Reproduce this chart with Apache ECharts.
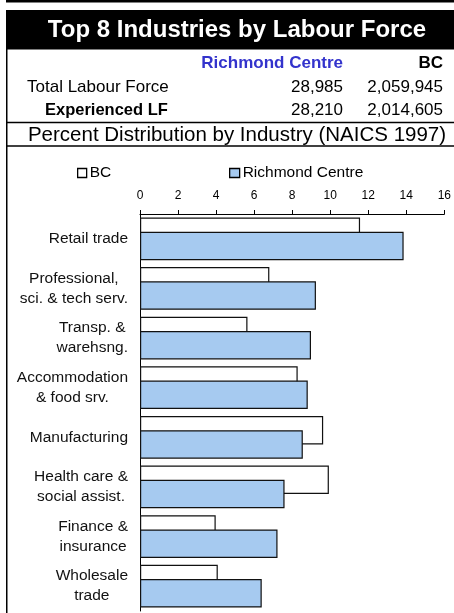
<!DOCTYPE html>
<html>
<head>
<meta charset="utf-8">
<style>
html,body{margin:0;padding:0;background:#fff;}
#chart{width:454px;height:613px;}
</style>
<script src="https://cdn.jsdelivr.net/npm/echarts@6/dist/echarts.min.js"></script>
</head>
<body>
<div id="chart"></div>
<script>
var titleText = 'Top 8 Industries by Labour Force';
var columnHeads = ['Richmond Centre', 'BC'];
var rowLabels = ['Total Labour Force', 'Experienced LF'];
var richmondCounts = ['28,985', '28,210'];
var bcCounts = ['2,059,945', '2,014,605'];
var subTitle = 'Percent Distribution by Industry (NAICS 1997)';

var categories = ['Retail trade', 'Professional,\nsci. & tech serv.', 'Transp. &\nwarehsng.', 'Accommodation\n& food srv.', 'Manufacturing', 'Health care &\nsocial assist.', 'Finance &\ninsurance', 'Wholesale\ntrade'];
var bcValues = [11.57, 6.80, 5.65, 8.29, 9.63, 9.93, 3.98, 4.09];
var richmondValues = [13.86, 9.25, 8.99, 8.82, 8.56, 7.60, 7.23, 6.40];
var seriesNames = ['BC', 'Richmond Centre'];

var FONT = '"Liberation Sans", Arial, sans-serif';
var chart = echarts.init(document.getElementById('chart'), null, {renderer: 'canvas'});

function txt(x, y, s, opts) {
  return {
    type: 'text', x: x, y: y, silent: true,
    style: Object.assign({
      text: s, fontFamily: FONT, fontSize: 17, fill: '#000',
      align: 'left', verticalAlign: 'middle'
    }, opts || {})
  };
}

var graphics = [
  {type: 'rect', shape: {x: 6, y: 0, width: 448, height: 2.5}, style: {fill: '#000'}, silent: true},
  {type: 'rect', shape: {x: 6, y: 10, width: 448, height: 39.5}, style: {fill: '#000'}, silent: true},
  txt(237, 30, titleText, {fontSize: 24, fontWeight: 'bold', fill: '#fff', align: 'center'}),
  txt(343, 63.5, columnHeads[0], {fontWeight: 'bold', fill: '#3333cc', align: 'right'}),
  txt(443, 63.5, columnHeads[1], {fontWeight: 'bold', align: 'right'}),
  txt(27, 87.5, rowLabels[0]),
  txt(343, 87.5, richmondCounts[0], {align: 'right'}),
  txt(443, 87.5, bcCounts[0], {align: 'right'}),
  txt(45, 110, rowLabels[1], {fontWeight: 'bold', fontSize: 16.5}),
  txt(343, 110, richmondCounts[1], {align: 'right'}),
  txt(443, 110, bcCounts[1], {align: 'right'}),
  {type: 'line', shape: {x1: 6, y1: 122.5, x2: 454, y2: 122.5}, style: {stroke: '#000', lineWidth: 1.5}, silent: true},
  txt(237, 135, subTitle, {fontSize: 20.5, align: 'center'}),
  {type: 'line', shape: {x1: 6, y1: 146, x2: 454, y2: 146}, style: {stroke: '#000', lineWidth: 1.5}, silent: true},
  {type: 'line', shape: {x1: 6.75, y1: 10, x2: 6.75, y2: 613}, style: {stroke: '#000', lineWidth: 1.5}, silent: true}
];

var option = {
  animation: false,
  backgroundColor: '#fff',
  textStyle: {fontFamily: FONT},
  graphic: graphics,
  legend: [
    {
      data: [{name: seriesNames[0], itemStyle: {color: '#fff', borderColor: '#000', borderWidth: 1.3}}],
      left: 77, top: 165, padding: 0, itemWidth: 9, itemHeight: 9, icon: 'rect',
      textStyle: {fontFamily: FONT, fontSize: 15.5, color: '#000', padding: [0, 0, 0, -2]}
    },
    {
      data: [{name: seriesNames[1], itemStyle: {color: '#a6caf0', borderColor: '#000', borderWidth: 1.3}}],
      left: 229, top: 165, padding: 0, itemWidth: 10, itemHeight: 9, icon: 'rect',
      textStyle: {fontFamily: FONT, fontSize: 15.5, color: '#000', padding: [0, 0, 0, -2]}
    }
  ],
  grid: {left: 140, right: 7, top: 214, height: 397, containLabel: false},
  xAxis: {
    type: 'value', position: 'top', min: 0, max: 16, interval: 2,
    axisLine: {show: true, lineStyle: {color: '#000', width: 1}},
    axisTick: {show: true, length: 4, lineStyle: {color: '#000'}},
    axisLabel: {fontFamily: FONT, fontSize: 12, color: '#000', margin: 12},
    splitLine: {show: false}
  },
  yAxis: {
    type: 'category', inverse: true, data: categories,
    axisLine: {show: true, lineStyle: {color: '#000', width: 1}},
    axisTick: {show: false},
    axisLabel: {
      fontFamily: FONT, fontSize: 15.5, color: '#111', margin: 12, align: 'right',
      formatter: function (v) {
        return v.split('\n').map(function (l) { return '{c|' + l + '}'; }).join('\n');
      },
      rich: {c: {align: 'center', fontFamily: FONT, fontSize: 15.5, lineHeight: 20, color: '#111'}}
    }
  },
  series: [
    {
      name: seriesNames[0], type: 'bar', data: bcValues, barWidth: 28.5, barGap: '-50%',
      itemStyle: {color: '#fff', borderColor: '#111', borderWidth: 1.2}
    },
    {
      name: seriesNames[1], type: 'bar', data: richmondValues, barWidth: 28.5, barGap: '-50%',
      itemStyle: {color: '#a6caf0', borderColor: '#111', borderWidth: 1.2}
    }
  ]
};
chart.setOption(option);
</script>
</body>
</html>
